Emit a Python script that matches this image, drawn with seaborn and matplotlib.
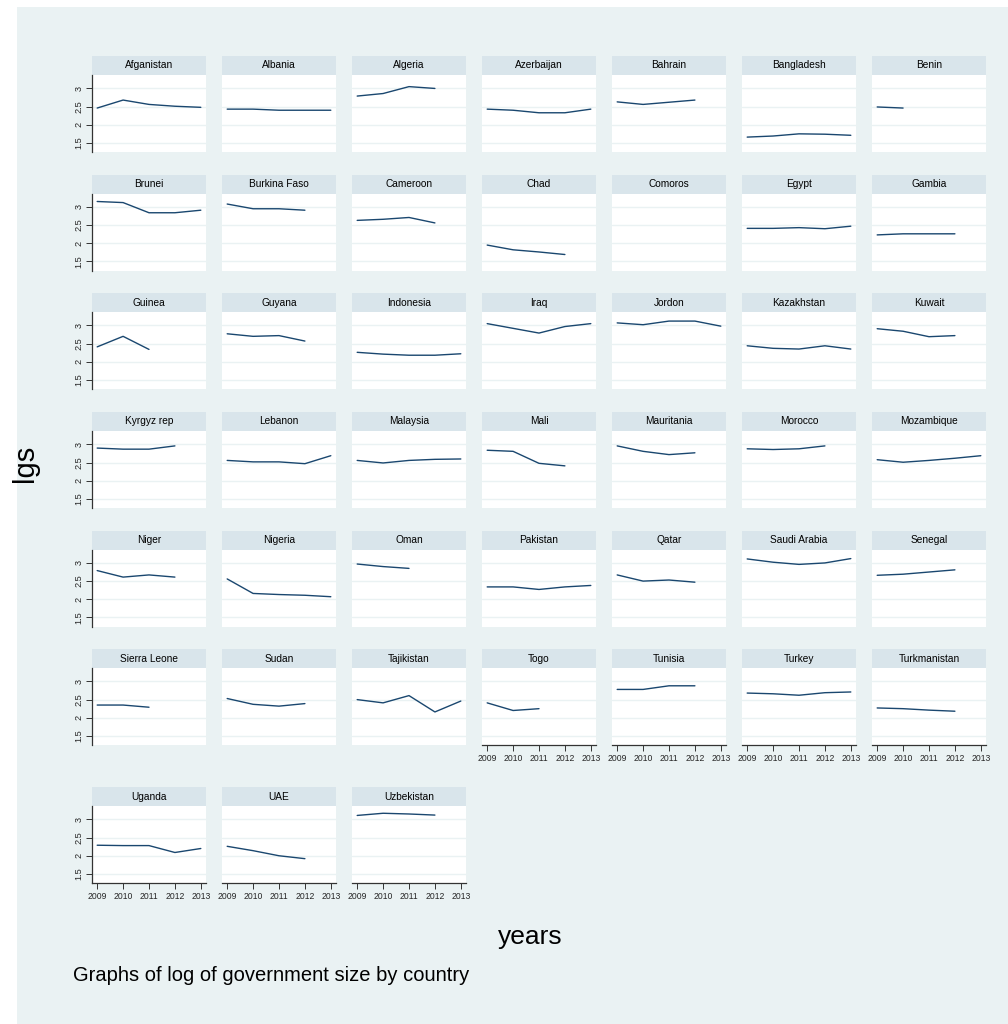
import numpy as np
import pandas as pd
import matplotlib
matplotlib.use("Agg")
import matplotlib.pyplot as plt
from matplotlib.patches import Rectangle
import seaborn as sns

nan = np.nan

countries = [
    "Afganistan", "Albania", "Algeria", "Azerbaijan", "Bahrain", "Bangladesh", "Benin",
    "Brunei", "Burkina Faso", "Cameroon", "Chad", "Comoros", "Egypt", "Gambia",
    "Guinea", "Guyana", "Indonesia", "Iraq", "Jordon", "Kazakhstan", "Kuwait",
    "Kyrgyz rep", "Lebanon", "Malaysia", "Mali", "Mauritania", "Morocco", "Mozambique",
    "Niger", "Nigeria", "Oman", "Pakistan", "Qatar", "Saudi Arabia", "Senegal",
    "Sierra Leone", "Sudan", "Tajikistan", "Togo", "Tunisia", "Turkey", "Turkmanistan",
    "Uganda", "UAE", "Uzbekistan",
]
years = [2009, 2010, 2011, 2012, 2013]

# log of government size, one list per year (same order as countries)
lgs_2009 = [2.46, 2.43, 2.79, 2.43, 2.63, 1.66, 2.49,
            3.15, 3.08, 2.63, 1.95, nan, 2.41, 2.23,
            2.41, 2.77, 2.26, 3.05, 3.07, 2.44, 2.91,
            2.90, 2.56, 2.56, 2.84, 2.96, 2.88, 2.58,
            2.79, 2.56, 2.97, 2.34, 2.67, 3.11, 2.66,
            2.35, 2.53, 2.50, 2.41, 2.78, 2.68, 2.27,
            2.29, 2.26, 3.11]
lgs_2010 = [2.68, 2.43, 2.86, 2.40, 2.56, 1.69, 2.46,
            3.12, 2.95, 2.66, 1.82, nan, 2.41, 2.26,
            2.70, 2.70, 2.21, 2.92, 3.02, 2.37, 2.84,
            2.87, 2.52, 2.49, 2.81, 2.81, 2.86, 2.51,
            2.61, 2.16, 2.90, 2.34, 2.50, 3.02, 2.69,
            2.35, 2.37, 2.41, 2.20, 2.78, 2.66, 2.25,
            2.28, 2.14, 3.17]
lgs_2011 = [2.56, 2.40, 3.05, 2.33, 2.62, 1.75, nan,
            2.84, 2.95, 2.71, 1.76, nan, 2.43, 2.26,
            2.34, 2.72, 2.18, 2.79, 3.12, 2.35, 2.69,
            2.87, 2.52, 2.56, 2.48, 2.72, 2.88, 2.56,
            2.67, 2.13, 2.85, 2.27, 2.53, 2.96, 2.75,
            2.29, 2.32, 2.61, 2.25, 2.88, 2.62, 2.21,
            2.28, 2.00, 3.15]
lgs_2012 = [2.51, 2.40, 3.00, 2.33, 2.68, 1.74, nan,
            2.84, 2.91, 2.56, 1.69, nan, 2.40, 2.26,
            nan, 2.57, 2.18, 2.97, 3.12, 2.44, 2.72,
            2.96, 2.47, 2.59, 2.41, 2.77, 2.96, 2.62,
            2.61, 2.11, nan, 2.34, 2.47, 3.00, 2.81,
            nan, 2.39, 2.16, nan, 2.88, 2.69, 2.18,
            2.09, 1.92, 3.12]
lgs_2013 = [2.48, 2.40, nan, 2.43, nan, 1.71, nan,
            2.91, nan, nan, nan, nan, 2.47, nan,
            nan, nan, 2.22, 3.05, 2.98, 2.35, nan,
            nan, 2.69, 2.60, nan, nan, nan, 2.69,
            nan, 2.07, nan, 2.38, nan, 3.12, nan,
            nan, nan, 2.46, nan, nan, 2.71, nan,
            2.20, nan, nan]

wide = pd.DataFrame({"country": countries, 2009: lgs_2009, 2010: lgs_2010,
                     2011: lgs_2011, 2012: lgs_2012, 2013: lgs_2013})
df = wide.melt(id_vars="country", var_name="year", value_name="lgs").dropna()
df["year"] = df["year"].astype(int)

# colours in the Stata s2color manner
BG = "#EAF2F3"
STRIP = "#D9E5EB"
LINE = "#1A476F"
AXIS = "#333333"

sns.set_style("white")
plt.rcParams["font.family"] = ["Liberation Sans", "DejaVu Sans"]

W, H = 1008, 1024
fig = plt.figure(figsize=(W / 100, H / 100), dpi=100, facecolor="white")
fig.patches.append(Rectangle((17 / W, 0), 1 - 17 / W, 1 - 7 / H,
                             transform=fig.transFigure, facecolor=BG,
                             edgecolor="none", zorder=-10))

ncol = 7
col_left = [92 + 130 * c for c in range(ncol)]
strip_top = [56, 174.5, 293, 412, 530.5, 649, 787]
pw, ph, sh = 114, 77, 19
n = len(countries)

for i, name in enumerate(countries):
    r, c = divmod(i, ncol)
    top = strip_top[r] + sh
    ax = fig.add_axes([col_left[c] / W, (H - top - ph) / H, pw / W, ph / H])
    ax.set_facecolor("white")
    sub = df[df["country"] == name]
    if len(sub):
        sns.lineplot(data=sub, x="year", y="lgs", ax=ax, color=LINE,
                     linewidth=1.0, estimator=None, sort=True)
    ax.set_xlim(2008.8, 2013.2)
    ax.set_ylim(1.25, 3.37)
    ax.set_yticks([1.5, 2, 2.5, 3])
    ax.set_xticks(years)
    ax.grid(axis="y", color=BG, linewidth=1.0)
    ax.grid(axis="x", visible=False)
    ax.set_xlabel("")
    ax.set_ylabel("")
    for s in ax.spines.values():
        s.set_visible(False)

    # left axis only in the first column
    if c == 0:
        ax.spines["left"].set_visible(True)
        ax.spines["left"].set_color(AXIS)
        ax.spines["left"].set_linewidth(0.9)
        ax.set_yticklabels(["1.5", "2", "2.5", "3"], rotation=90, va="center")
        ax.tick_params(axis="y", left=True, length=4, width=0.7, color=AXIS,
                       labelsize=6.6, pad=2)
    else:
        ax.tick_params(axis="y", left=False, labelleft=False)

    # bottom axis on the lowest panel of each column
    below = i + ncol
    if below >= n:
        ax.spines["bottom"].set_visible(True)
        ax.spines["bottom"].set_color(AXIS)
        ax.spines["bottom"].set_linewidth(0.9)
        ax.set_xticklabels([str(y) for y in years])
        ax.tick_params(axis="x", bottom=True, length=4, width=0.7, color=AXIS,
                       labelsize=6.2, pad=2.5)
    else:
        ax.tick_params(axis="x", bottom=False, labelbottom=False)

    # panel header strip
    ax.add_patch(Rectangle((0, 1), 1, sh / ph, transform=ax.transAxes,
                           facecolor=STRIP, edgecolor="none", clip_on=False))
    ax.text(0.5, 1 + sh / ph / 2, name, transform=ax.transAxes,
            ha="center", va="center", fontsize=7.3, color="black")

fig.text(25 / W, 1 - 463 / H, "lgs", rotation=90, ha="center", va="center",
         fontsize=21, color="black")
fig.text(530 / W, 1 - 937 / H, "years", ha="center", va="center",
         fontsize=19, color="black")
fig.text(73 / W, 1 - 981 / H, "Graphs of log of government size by country",
         ha="left", va="baseline", fontsize=14.5, color="black")

fig.savefig("out.png", dpi=100, facecolor="white")
